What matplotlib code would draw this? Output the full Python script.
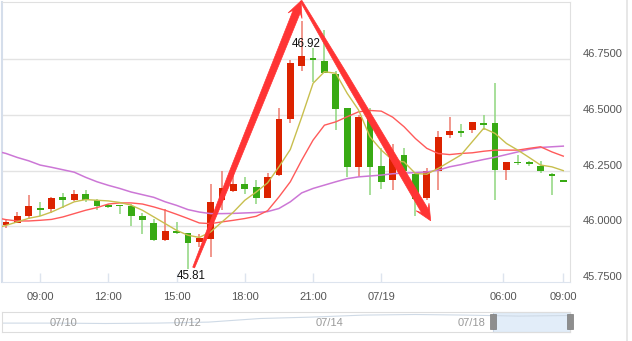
import matplotlib
matplotlib.use("Agg")
import matplotlib.pyplot as plt
import numpy as np
from matplotlib.patches import Polygon, Rectangle
from matplotlib.lines import Line2D

plt.rcParams['font.family'] = ['Liberation Sans', 'DejaVu Sans']

# ---------------- data ----------------
opens = [46.008, 46.017, 46.046, 46.078, 46.076, 46.130, 46.117, 46.147, 46.120, 46.095,
         46.091, 46.091, 46.046, 46.017, 45.937, 45.978, 45.970, 45.930, 45.945, 46.117,
         46.157, 46.192, 46.177, 46.127, 46.230, 46.480, 46.720, 46.752, 46.742, 46.683,
         46.530, 46.267, 46.492, 46.270, 46.207, 46.320, 46.237, 46.127, 46.250, 46.410,
         46.429, 46.432, 46.462, 46.462, 46.252, 46.289, 46.283, 46.270, 46.237, 46.207]
closes = [46.019, 46.046, 46.090, 46.075, 46.129, 46.118, 46.147, 46.120, 46.090, 46.088,
          46.089, 46.046, 46.027, 45.937, 45.979, 45.968, 45.927, 45.947, 46.109, 46.170,
          46.192, 46.166, 46.127, 46.222, 46.480, 46.735, 46.765, 46.748, 46.690, 46.528,
          46.267, 46.492, 46.267, 46.200, 46.322, 46.249, 46.124, 46.250, 46.400, 46.429,
          46.420, 46.469, 46.453, 46.252, 46.289, 46.282, 46.281, 46.249, 46.226, 46.199]
highs = [46.031, 46.063, 46.140, 46.110, 46.132, 46.150, 46.162, 46.162, 46.122, 46.102,
         46.092, 46.100, 46.060, 46.035, 46.076, 46.020, 45.972, 45.967, 46.192, 46.250,
         46.250, 46.222, 46.207, 46.240, 46.532, 46.747, 46.920, 46.800, 46.882, 46.695,
         46.532, 46.500, 46.530, 46.350, 46.369, 46.350, 46.244, 46.260, 46.429, 46.492,
         46.459, 46.470, 46.500, 46.642, 46.290, 46.320, 46.294, 46.294, 46.238, 46.208]
lows = [45.991, 46.015, 46.035, 46.046, 46.062, 46.080, 46.115, 46.110, 46.072, 46.080,
        46.054, 46.000, 45.967, 45.935, 45.935, 45.966, 45.810, 45.907, 45.860, 46.072,
        46.155, 46.147, 46.102, 46.125, 46.228, 46.462, 46.695, 46.647, 46.688, 46.432,
        46.222, 46.222, 46.140, 46.168, 46.162, 46.230, 46.045, 46.117, 46.162, 46.395,
        46.402, 46.417, 46.432, 46.117, 46.210, 46.275, 46.270, 46.240, 46.140, 46.197]

# moving averages (first value belongs to the candle just left of the window)
ma5 = [45.990, 46.004, 46.020, 46.036, 46.046, 46.064, 46.087, 46.110, 46.120, 46.117,
       46.114, 46.107, 46.095, 46.072, 46.042, 46.012, 45.982, 45.960, 45.950, 45.975,
       46.020, 46.064, 46.117, 46.154, 46.195, 46.267, 46.345, 46.490, 46.642, 46.694,
       46.687, 46.597, 46.522, 46.402, 46.342, 46.297, 46.289, 46.237, 46.234, 46.260,
       46.290, 46.320, 46.380, 46.440, 46.417, 46.372, 46.342, 46.309, 46.275, 46.267,
       46.250]
ma10 = [46.040, 46.030, 46.024, 46.024, 46.027, 46.031, 46.042, 46.057, 46.072, 46.084,
        46.100, 46.105, 46.105, 46.100, 46.087, 46.072, 46.054, 46.035, 46.015, 46.012,
        46.020, 46.027, 46.035, 46.045, 46.070, 46.132, 46.200, 46.297, 46.387, 46.454,
        46.469, 46.492, 46.514, 46.520, 46.517, 46.490, 46.447, 46.394, 46.350, 46.327,
        46.322, 46.327, 46.330, 46.337, 46.342, 46.342, 46.342, 46.350, 46.357, 46.334,
        46.315]
ma20 = [46.340, 46.327, 46.309, 46.294, 46.275, 46.265, 46.254, 46.243, 46.220, 46.200,
        46.184, 46.170, 46.154, 46.142, 46.130, 46.110, 46.094, 46.075, 46.064, 46.057,
        46.057, 46.058, 46.060, 46.062, 46.066, 46.080, 46.110, 46.150, 46.170, 46.185,
        46.200, 46.214, 46.222, 46.226, 46.230, 46.236, 46.239, 46.241, 46.244, 46.252,
        46.267, 46.277, 46.289, 46.300, 46.310, 46.322, 46.334, 46.346, 46.354, 46.357,
        46.360]

x_tick_pos = [3, 9, 15, 21, 27, 33, 43.7, 49]
x_tick_labels = ['09:00', '12:00', '15:00', '18:00', '21:00', '07/19', '06:00', '09:00']
y_ticks = [45.75, 46.0, 46.25, 46.5, 46.75]

slider_labels = ['07/10', '07/12', '07/14', '07/18']
slider_label_pos = [0.109, 0.327, 0.576, 0.826]
slider_shadow = [0.43, 0.43, 0.41, 0.43, 0.48, 0.66, 0.73, 0.83, 0.86, 0.83, 0.78, 0.81]
slider_window = (0.864, 1.0)

# annotation arrows (index, price)
arrow_pts = [(16.5, 45.815), (25.94, 47.012), (37.34, 46.025)]

UP = '#dc2300'
DOWN = '#38aa14'

# ---------------- figure ----------------
W, H = 632, 341
fig = plt.figure(figsize=(W / 100, H / 100), dpi=100)
fig.patch.set_facecolor('white')

L, R, T, B = 2, 570, 2, 282
ax = fig.add_axes([L / W, 1 - B / H, (R - L) / W, (B - T) / H])
n = len(opens)
idx = np.arange(n)
ax.set_xlim(-0.35, 49.59)
ax.set_ylim(45.75, 47.007)

for y in y_ticks[1:]:
    ax.axhline(y, color='#e3e3e3', lw=1, zorder=0)

o = np.array(opens); c = np.array(closes); hi = np.array(highs); lo = np.array(lows)
up = c >= o
cols = np.where(up, UP, DOWN)
wick_cols = np.where(up, '#ee7a6e', '#8fd67e')
ax.vlines(idx, lo, hi, colors=wick_cols, lw=1.1, zorder=2)
body_bottom = np.minimum(o, c)
body_h = np.maximum(np.abs(c - o), 0.006)
ax.bar(idx, body_h, bottom=body_bottom, width=0.6, color=cols, linewidth=0, zorder=3)

ma_x = np.arange(-1, n)
ax.plot(ma_x, ma20, color='#cc77d6', lw=1.1, zorder=4)
ax.plot(ma_x, ma10, color='#ff5a5a', lw=1.0, zorder=4)
ax.plot(ma_x, ma5, color='#c8bf4e', lw=1.0, zorder=4)

# high / low labels
imax = int(np.argmax(hi)); imin = int(np.argmin(lo))
ax.annotate(f'{hi[imax]:.2f}', (imax, hi[imax]), xytext=(3.2, -16.5), textcoords='offset points',
            ha='center', va='center', fontsize=8.3, color='#111111', zorder=6)
ax.annotate(f'{lo[imin]:.2f}', (imin, lo[imin]), xytext=(2.3, -5.5), textcoords='offset points',
            ha='center', va='center', fontsize=8.3, color='#111111', zorder=6)

# axes styling
for s in ['top', 'right']:
    ax.spines[s].set_color('#e0e0e0')
ax.spines['left'].set_color('#d5deeb')
ax.spines['left'].set_linewidth(1.5)
ax.spines['bottom'].set_color('#dde4ee')

ax.set_xticks(x_tick_pos)
ax.set_xticklabels(x_tick_labels)
ax.tick_params(axis='x', direction='in', length=6.5, width=1, color='#dde4ee', pad=7.5,
               labelsize=8, labelcolor='#555555')
ax.set_yticks(y_ticks)
ax.set_yticklabels([f'{v:.4f}' for v in y_ticks])
ax.yaxis.tick_right()
ax.tick_params(axis='y', length=0, pad=9.5, labelsize=8, labelcolor='#555555')
for tk in ax.yaxis.get_major_ticks():
    tk.label2.set_verticalalignment('bottom')

# tapered arrows
def tapered_arrow(p0, p1, w0=1.0, w1=3.8, head_len=16, head_w=7.5):
    P0 = ax.transData.transform(p0)
    P1 = ax.transData.transform(p1)
    d = P1 - P0
    u = d / np.hypot(*d)
    nv = np.array([-u[1], u[0]])
    Ps = P1 - u * head_len * 0.72
    Pb = P1 - u * head_len
    Pm = P0 + (Ps - P0) * 0.35
    wm = w0 + (w1 - w0) * 0.6
    pts = [P0 + nv * w0, Pm + nv * wm, Ps + nv * w1, Pb + nv * head_w, P1,
           Pb - nv * head_w, Ps - nv * w1, Pm - nv * wm, P0 - nv * w0]
    pts = ax.transData.inverted().transform(np.array(pts))
    poly = Polygon(pts, closed=True, facecolor='#ff3434', edgecolor='#ff3434', lw=0.5,
                   zorder=7, clip_on=False, transform=ax.transData)
    ax.add_patch(poly)

tapered_arrow(arrow_pts[0], arrow_pts[1])
tapered_arrow(arrow_pts[1], arrow_pts[2])

# ---------------- slider ----------------
sx = fig.add_axes([L / W, 1 - 331.7 / H, (R - L) / W, 20 / H])
sx.set_xlim(0, 1); sx.set_ylim(0, 1)
sx.set_xticks([]); sx.set_yticks([])
for s in sx.spines.values():
    s.set_color('#dddddd')
sx.add_patch(Rectangle((slider_window[0], 0), slider_window[1] - slider_window[0], 1,
                       facecolor='#e2edf9', edgecolor='#c9d6e6', lw=0.8, zorder=1, clip_on=False))
sxs = np.linspace(0, 1, len(slider_shadow))
sx.plot(sxs, slider_shadow, color='#cfdae6', lw=0.8, zorder=2)
for lab, p in zip(slider_labels, slider_label_pos):
    sx.text(p, 0.45, lab, ha='center', va='center', fontsize=8, color='#9a9a9a', zorder=3)
hw = 6.5 / (R - L)
for xh in slider_window:
    sx.add_patch(Rectangle((xh - hw / 2, 0.12), hw, 0.77, facecolor='#8e8e8e',
                           edgecolor='#7a7a7a', lw=0.5, zorder=4, clip_on=False))

fig.add_artist(Line2D([626.5 / W, 626.5 / W], [0, 1], color='#e3e3e3', lw=1.2))

fig.savefig('out.png', dpi=100)
